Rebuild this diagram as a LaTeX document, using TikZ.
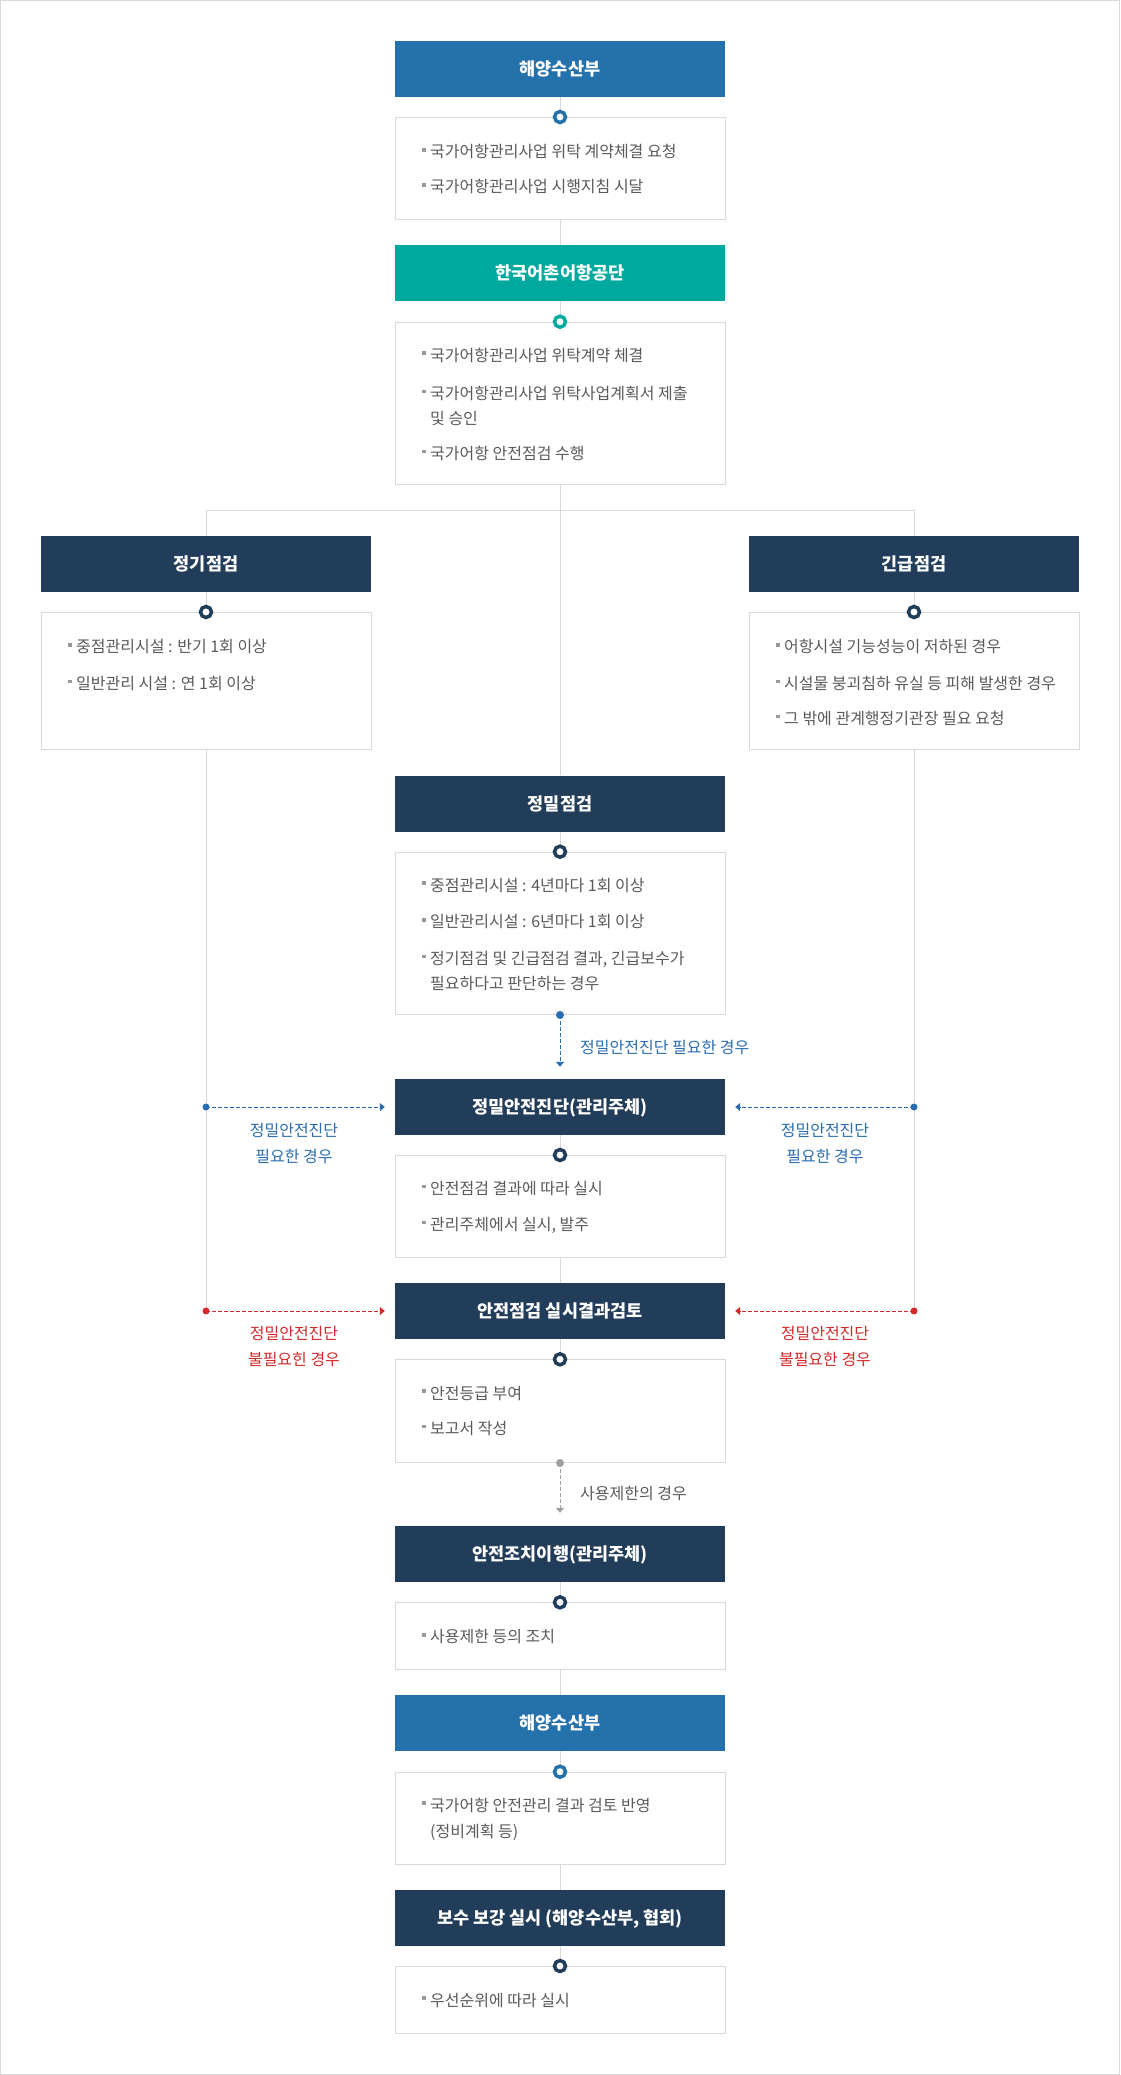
\documentclass[tikz,border=0pt]{standalone}
\usepackage{fontspec}
\setmainfont{Noto Sans CJK KR}
\usetikzlibrary{arrows.meta}
\definecolor{hblue}{HTML}{2571AB}
\definecolor{hteal}{HTML}{00A99D}
\definecolor{hnavy}{HTML}{223D5A}
\definecolor{bgrey}{HTML}{D9D9D9}
\definecolor{tgrey}{HTML}{5A5A5A}
\definecolor{bulgrey}{HTML}{999999}
\definecolor{lblue}{HTML}{2A6DB0}
\definecolor{lred}{HTML}{D42A2A}
\definecolor{dgrey}{HTML}{A0A0A0}
\newcommand\bul{\makebox[8pt][l]{\textcolor{bulgrey}{\rule[6.3pt]{3.5pt}{3.5pt}}}}
\tikzset{
  hdr/.style={rectangle, minimum width=330pt, minimum height=56pt, inner sep=0pt,
    fill=#1, text=white, font=\fontsize{17.5}{20}\selectfont\bfseries,
    text height=13pt, text depth=0pt},
  cbox/.style={rectangle, draw=bgrey, line width=1pt, fill=white,
    minimum width=330pt, minimum height=#1, inner sep=0pt, anchor=north},
  ring/.style={circle, draw=#1, fill=white, line width=3.5pt, minimum size=11pt, inner sep=0pt},
  dot/.style={circle, fill=#1, minimum size=8pt, inner sep=0pt},
  txt/.style={anchor=base west, inner sep=0pt, text=tgrey, font=\fontsize{16}{18}\selectfont, yshift=-0.4pt},
  lbl/.style={anchor=base, inner sep=0pt, text=#1, font=\fontsize{16}{18}\selectfont, yshift=-0.4pt},
  gl/.style={draw=bgrey, line width=1pt},
  darr/.style={draw=#1, line width=1pt, dash pattern=on 4pt off 2pt,
    -{Triangle[length=5pt,width=8pt]}},
}
\begin{document}
\begin{tikzpicture}[x=1pt,y=-1pt]
\useasboundingbox (0,0) rectangle (1120,2075);
\fill[white] (0,0) rectangle (1120,2075);
\draw[bgrey, line width=1pt] (0.5,0.5) rectangle (1119.5,2074.5);

\coordinate (jn) at (560,510.7);
\coordinate (lb) at (206,1107);
\coordinate (lr) at (206,1311);
\coordinate (rb) at (914,1107);
\coordinate (rr) at (914,1311);

% ---------- headers ----------
\node[hdr=hblue] (h1) at (560,69) {해양수산부};
\node[hdr=hteal] (h2) at (560,273) {한국어촌어항공단};
\node[hdr=hnavy] (h3) at (206,564) {정기점검};
\node[hdr=hnavy] (h4) at (914,564) {긴급점검};
\node[hdr=hnavy] (h5) at (560,803.5) {정밀점검};
\node[hdr=hnavy] (h6) at (560,1107) {정밀안전진단(관리주체)};
\node[hdr=hnavy] (h7) at (560,1311) {안전점검 실시결과검토};
\node[hdr=hnavy] (h8) at (560,1554) {안전조치이행(관리주체)};
\node[hdr=hblue] (h9) at (560,1723) {해양수산부};
\node[hdr=hnavy] (h10) at (560,1918) {보수 보강 실시 (해양수산부, 협회)};

% ---------- content boxes ----------
\node[cbox=102pt] (c1) at (560,117) {};
\node[cbox=162.3pt] (c2) at (560,321.7) {};
\node[cbox=137pt] (c3) at (206,612) {};
\node[cbox=137pt] (c4) at (914,612) {};
\node[cbox=162.3pt] (c5) at (560,851.7) {};
\node[cbox=102pt] (c6) at (560,1155) {};
\node[cbox=102.7pt] (c7) at (560,1359.3) {};
\node[cbox=67pt] (c8) at (560,1602.3) {};
\node[cbox=92.3pt] (c9) at (560,1771.7) {};
\node[cbox=67pt] (c10) at (560,1966) {};

% ---------- solid grey connectors ----------
\draw[gl] (h1.south) -- (c1.north);
\draw[gl] (c1.south) -- (h2.north);
\draw[gl] (h2.south) -- (c2.north);
\draw[gl] (c2.south) -- (jn);
\draw[gl] (jn) -- (h5.north);
\draw[gl] (h3.north) |- (jn) -| (h4.north);
\draw[gl] (h3.south) -- (c3.north);
\draw[gl] (h4.south) -- (c4.north);
\draw[gl] (h5.south) -- (c5.north);
\draw[gl] (c3.south) -- (lr);
\draw[gl] (c4.south) -- (rr);
\draw[gl] (h6.south) -- (c6.north);
\draw[gl] (c6.south) -- (h7.north);
\draw[gl] (h7.south) -- (c7.north);
\draw[gl] (h8.south) -- (c8.north);
\draw[gl] (c8.south) -- (h9.north);
\draw[gl] (h9.south) -- (c9.north);
\draw[gl] (c9.south) -- (h10.north);
\draw[gl] (h10.south) -- (c10.north);

% ---------- rings ----------
\node[ring=hblue] (r1) at (c1.north) {};
\node[ring=hteal] (r2) at (c2.north) {};
\node[ring=hnavy] (r3) at (c3.north) {};
\node[ring=hnavy] (r4) at (c4.north) {};
\node[ring=hnavy] (r5) at (c5.north) {};
\node[ring=hnavy] (r6) at (c6.north) {};
\node[ring=hnavy] (r7) at (c7.north) {};
\node[ring=hnavy] (r8) at (c8.north) {};
\node[ring=hblue] (r9) at (c9.north) {};
\node[ring=hnavy] (r10) at (c10.north) {};

% ---------- dashed arrows ----------
\node[dot=lblue] (d5) at (c5.south) {};
\draw[darr=lblue, shorten >=12pt] (d5.center) -- (h6.north);
\node[lbl=lblue, anchor=base west] (l5) at (580,1053) {정밀안전진단 필요한 경우};

\node[dot=dgrey] (d7) at (c7.south) {};
\draw[darr=dgrey, shorten >=13pt] (d7.center) -- (h8.north);
\node[lbl=tgrey, anchor=base west] (l7) at (580,1499) {사용제한의 경우};

\node[dot=lblue, minimum size=7pt] (dlb) at (lb) {};
\node[dot=lblue, minimum size=7pt] (drb) at (rb) {};
\node[dot=lred, minimum size=7pt] (dlr) at (lr) {};
\node[dot=lred, minimum size=7pt] (drr) at (rr) {};
\draw[darr=lblue, shorten >=10pt] (dlb.center) -- (h6.west);
\draw[darr=lblue, shorten >=10pt] (drb.center) -- (h6.east);
\draw[darr=lred, shorten >=10pt] (dlr.center) -- (h7.west);
\draw[darr=lred, shorten >=10pt] (drr.center) -- (h7.east);

\node[lbl=lblue] (llb1) at (294,1135.7) {정밀안전진단};
\node[lbl=lblue] (llb2) at (294,1161.7) {필요한 경우};
\node[lbl=lblue] (lrb1) at (825,1135.7) {정밀안전진단};
\node[lbl=lblue] (lrb2) at (825,1161.7) {필요한 경우};
\node[lbl=lred] (llr1) at (294,1339) {정밀안전진단};
\node[lbl=lred] (llr2) at (294,1365) {불필요힌 경우};
\node[lbl=lred] (lrr1) at (825,1339) {정밀안전진단};
\node[lbl=lred] (lrr2) at (825,1365) {불필요한 경우};

% ---------- texts ----------
\node[txt] (t11) at (422,157.4) {\bul 국가어항관리사업 위탁 계약체결 요청};
\node[txt] (t12) at (422,192.4) {\bul 국가어항관리사업 시행지침 시달};

\node[txt] (t21) at (422,360.7) {\bul 국가어항관리사업 위탁계약 체결};
\node[txt] (t22) at (422,399) {\bul 국가어항관리사업 위탁사업계획서 제출};
\node[txt] (t22b) at (430,424) {및 승인};
\node[txt] (t23) at (422,459) {\bul 국가어항 안전점검 수행};

\node[txt] (t31) at (68,652.4) {\bul 중점관리시설 : 반기 1회 이상};
\node[txt] (t32) at (68,689) {\bul 일반관리 시설 : 연 1회 이상};

\node[txt] (t41) at (776,652.4) {\bul 어항시설 기능성능이 저하된 경우};
\node[txt] (t42) at (776,689) {\bul 시설물 붕괴침하 유실 등 피해 발생한 경우};
\node[txt] (t43) at (776,724) {\bul 그 밖에 관계행정기관장 필요 요청};

\node[txt] (t51) at (422,890.7) {\bul 중점관리시설 : 4년마다 1회 이상};
\node[txt] (t52) at (422,927.4) {\bul 일반관리시설 : 6년마다 1회 이상};
\node[txt] (t53) at (422,964) {\bul 정기점검 및 긴급점검 결과, 긴급보수가};
\node[txt] (t53b) at (430,989) {필요하다고 판단하는 경우};

\node[txt] (t61) at (422,1194) {\bul 안전점검 결과에 따라 실시};
\node[txt] (t62) at (422,1230) {\bul 관리주체에서 실시, 발주};

\node[txt] (t71) at (422,1398.7) {\bul 안전등급 부여};
\node[txt] (t72) at (422,1434.3) {\bul 보고서 작성};

\node[txt] (t81) at (422,1642.4) {\bul 사용제한 등의 조치};

\node[txt] (t91) at (422,1810.7) {\bul 국가어항 안전관리 결과 검토 반영};
\node[txt] (t91b) at (430,1837.4) {(정비계획 등)};

\node[txt] (t101) at (422,2005.7) {\bul 우선순위에 따라 실시};
\end{tikzpicture}
\end{document}
